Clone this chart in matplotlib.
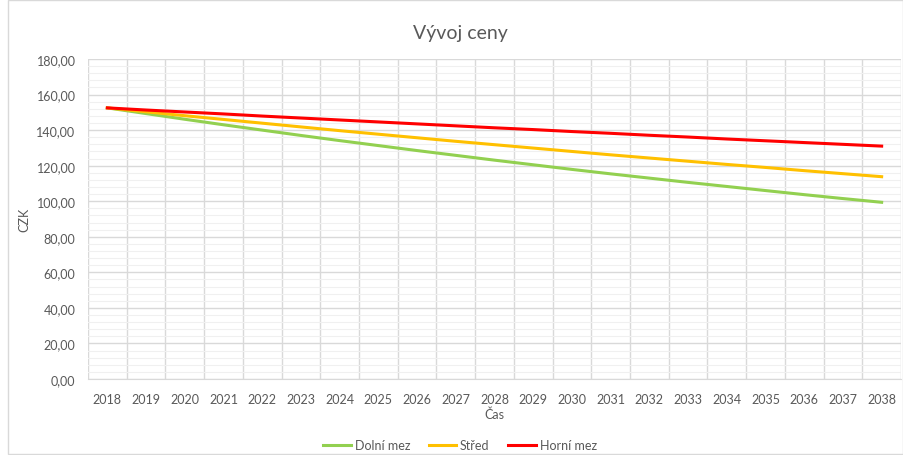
import matplotlib.pyplot as plt
from matplotlib.patches import Rectangle
from matplotlib.ticker import MultipleLocator, FuncFormatter, FixedLocator
import numpy as np

plt.rcParams['font.family'] = ['Lato', 'DejaVu Sans']

years = [str(y) for y in range(2018, 2039)]
dolni_mez = [152.5, 149.3, 146.1, 143.0, 140.0, 137.0, 134.1, 131.3, 128.5, 125.8, 123.1,
             120.5, 117.9, 115.4, 113.0, 110.6, 108.3, 106.0, 103.7, 101.5, 99.4]
stred = [152.5, 150.3, 148.1, 146.0, 143.9, 141.8, 139.7, 137.7, 135.7, 133.7, 131.8,
         129.9, 128.0, 126.1, 124.3, 122.5, 120.7, 119.0, 117.2, 115.5, 113.8]
horni_mez = [152.5, 151.3, 150.2, 149.1, 147.9, 146.8, 145.7, 144.6, 143.5, 142.4, 141.3,
             140.3, 139.2, 138.2, 137.1, 136.1, 135.0, 134.0, 133.0, 132.0, 131.0]

fig = plt.figure(figsize=(9.04, 4.56), dpi=100)
# ramecek grafu
fig.patches.append(Rectangle((8 / 904, 0.002), 895 / 904, 0.996, transform=fig.transFigure,
                             fill=False, edgecolor='#D9D9D9', linewidth=1))

ax = fig.add_axes([88 / 904, 1 - 380 / 456, 813 / 904, 320 / 456])
x = np.arange(len(years))
ax.plot(x, dolni_mez, color='#92D050', linewidth=2.2, label='Dolní mez', zorder=3)
ax.plot(x, stred, color='#FFC000', linewidth=2.2, label='Střed', zorder=3)
ax.plot(x, horni_mez, color='#FF0000', linewidth=2.2, label='Horní mez', zorder=3)

ax.set_xlim(-0.5, len(years) - 0.5)
ax.set_ylim(0, 180)
ax.set_xticks(x)
ax.set_xticklabels(years)
ax.xaxis.set_minor_locator(FixedLocator(np.arange(-0.5, len(years), 1.0)))
ax.yaxis.set_major_locator(MultipleLocator(20))
ax.yaxis.set_minor_locator(MultipleLocator(4))
ax.yaxis.set_major_formatter(FuncFormatter(lambda v, p: f'{v:.2f}'.replace('.', ',')))

ax.grid(which='major', axis='y', color='#D9D9D9', linewidth=1)
ax.grid(which='minor', axis='y', color='#F0F0F0', linewidth=0.8)
ax.grid(which='minor', axis='x', color='#D9D9D9', linewidth=1)
ax.set_axisbelow(True)
ax.tick_params(which='both', length=0, colors='#595959', labelsize=9)
ax.tick_params(axis='x', pad=10)
ax.tick_params(axis='y', pad=9)
for s in ['top', 'right', 'left']:
    ax.spines[s].set_visible(False)
ax.spines['bottom'].set_color('#D9D9D9')

ax.set_xlabel('Čas', fontsize=9, color='#595959', labelpad=2)
ax.set_ylabel('CZK', fontsize=9, color='#595959')
ax.yaxis.set_label_coords(-0.071, 0.5)
fig.text(460 / 904, 1 - 34 / 456, 'Vývoj ceny', ha='center', va='center', fontsize=14, color='#595959')

fig.legend(loc='center', bbox_to_anchor=(460 / 904, 1 - 446 / 456), ncol=3, frameon=False,
           fontsize=9, labelcolor='#595959', handlelength=2.2, handletextpad=0.3, columnspacing=1.5)

plt.savefig('out.png', dpi=100)
